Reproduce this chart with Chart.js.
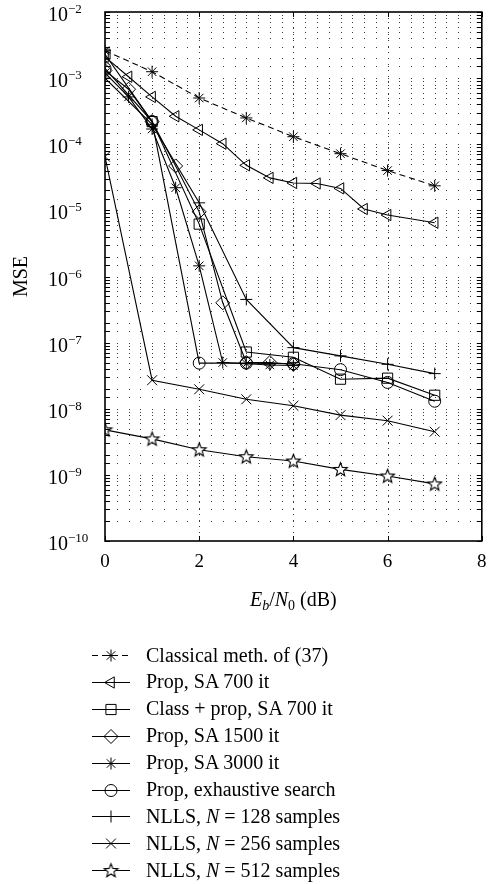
<!DOCTYPE html>
<html>
<head>
<meta charset="utf-8">
<script src="https://cdn.jsdelivr.net/npm/chart.js@4/dist/chart.umd.min.js"></script>
<style>
html,body{margin:0;padding:0;background:#fff;}
#wrap{position:relative;width:490px;height:884px;overflow:hidden;}
#c{position:absolute;left:0;top:0;}
.serif{font-family:"Liberation Serif","Times New Roman",serif;color:#000;}
#xtitle{position:absolute;font-size:20px;line-height:20px;white-space:nowrap;transform:translateX(-50%);}
#xtitle sub{font-size:14px;vertical-align:-4px;line-height:0;}
#legend{position:absolute;left:146px;font-size:20px;line-height:26.9px;white-space:nowrap;}
.ylab{position:absolute;left:48px;font-size:20px;line-height:20px;white-space:nowrap;}
.ylab sup{font-size:13px;vertical-align:8px;line-height:0;}
</style>
</head>
<body>
<div id="wrap">
<canvas id="c" width="490" height="884"></canvas>
<div id="xtitle" class="serif"><i>E<sub>b</sub></i>/<i>N</i><sub>0</sub> (dB)</div>
<div id="ylabels"></div>
<div id="legend" class="serif"></div>
</div>
<script>
// ---------- data ----------
const seriesLabels = [
  'Classical meth. of (37)',
  'Prop, SA 700 it',
  'Class + prop, SA 700 it',
  'Prop, SA 1500 it',
  'Prop, SA 3000 it',
  'Prop, exhaustive search',
  'NLLS, N = 128 samples',
  'NLLS, N = 256 samples',
  'NLLS, N = 512 samples'
];
const classX = [0, 1, 2, 3, 4, 5, 6, 7];
const classY = [2.6e-3, 1.25e-3, 5.0e-4, 2.5e-4, 1.3e-4, 7.2e-5, 4.0e-5, 2.35e-5];

const sa700X = [0, 0.5, 1, 1.5, 2, 2.5, 3, 3.5, 4, 4.5, 5, 5.5, 6, 7];
const sa700Y = [2.1e-3, 1.05e-3, 5.2e-4, 2.65e-4, 1.65e-4, 1.02e-4, 4.8e-5, 3.1e-5, 2.6e-5, 2.55e-5, 2.15e-5, 1.05e-5, 8.5e-6, 6.5e-6];

const classPropX = [0, 1, 2, 3, 4, 5, 6, 7];
const classPropY = [2.3e-3, 2.2e-4, 6.2e-6, 7.2e-8, 6.0e-8, 2.8e-8, 2.9e-8, 1.6e-8];

const sa1500X = [0, 0.5, 1, 1.5, 2, 2.5, 3, 3.5, 4];
const sa1500Y = [1.3e-3, 6.8e-4, 2.2e-4, 4.7e-5, 9.5e-6, 4.0e-7, 5.0e-8, 5.0e-8, 4.7e-8];

const sa3000X = [0, 0.5, 1, 1.5, 2, 2.5, 3, 3.5, 4];
const sa3000Y = [1.2e-3, 5.2e-4, 1.7e-4, 2.2e-5, 1.45e-6, 5.0e-8, 4.8e-8, 4.6e-8, 4.5e-8];

const exhX = [0, 1, 2, 3, 4, 5, 6, 7];
const exhY = [1.4e-3, 2.2e-4, 4.9e-8, 4.9e-8, 4.8e-8, 3.9e-8, 2.5e-8, 1.3e-8];

const nlls128X = [0, 1, 2, 3, 4, 5, 6, 7];
const nlls128Y = [1.0e-3, 2.0e-4, 1.3e-5, 4.5e-7, 8.4e-8, 6.3e-8, 4.7e-8, 3.4e-8];

const nlls256X = [0, 1, 2, 3, 4, 5, 6, 7];
const nlls256Y = [6.5e-5, 2.7e-8, 1.97e-8, 1.39e-8, 1.11e-8, 8.0e-9, 6.6e-9, 4.5e-9];

const nlls512X = [0, 1, 2, 3, 4, 5, 6, 7];
const nlls512Y = [4.8e-9, 3.5e-9, 2.4e-9, 1.88e-9, 1.62e-9, 1.21e-9, 9.6e-10, 7.3e-10];

const xTickValues = [0, 2, 4, 6, 8];
const yTickExponents = [-2, -3, -4, -5, -6, -7, -8, -9, -10];
const yTickLabels = ['\u22122', '\u22123', '\u22124', '\u22125', '\u22126', '\u22127', '\u22128', '\u22129', '\u221210'];

// ---------- styles ----------
const FONT = '"Liberation Serif","Times New Roman",serif';

function makeStar5(){
  const c = document.createElement('canvas');
  c.width = 17; c.height = 17;
  const g = c.getContext('2d');
  const cx = 8.5, cy = 8.9, R = 7.2, r = 3.1;
  g.beginPath();
  for (let k = 0; k < 10; k++) {
    const ang = -Math.PI/2 + k*Math.PI/5;
    const rr = (k % 2 === 0) ? R : r;
    const px = cx + rr*Math.cos(ang), py = cy + rr*Math.sin(ang);
    if (k === 0) g.moveTo(px, py); else g.lineTo(px, py);
  }
  g.closePath();
  g.fillStyle = '#fff';
  g.fill();
  g.strokeStyle = '#000';
  g.lineWidth = 1.1;
  g.stroke();
  return c;
}
const star5 = makeStar5();

const seriesDefs = [
  {xs: classX, ys: classY, style: 'star', r: 6, dash: [6, 4]},
  {xs: sa700X, ys: sa700Y, style: 'triangle', r: 6.5, rot: -90},
  {xs: classPropX, ys: classPropY, style: 'rect', r: 7.2},
  {xs: sa1500X, ys: sa1500Y, style: 'rectRot', r: 7},
  {xs: sa3000X, ys: sa3000Y, style: 'star', r: 6},
  {xs: exhX, ys: exhY, style: 'circle', r: 6},
  {xs: nlls128X, ys: nlls128Y, style: 'cross', r: 6},
  {xs: nlls256X, ys: nlls256Y, style: 'crossRot', r: 7},
  {xs: nlls512X, ys: nlls512Y, style: star5, r: 7}
];

const datasets = seriesDefs.map((d, i) => ({
  label: seriesLabels[i],
  data: d.xs.map((xv, k) => ({x: xv, y: d.ys[k]})),
  borderColor: '#000',
  borderWidth: 1.1,
  borderDash: d.dash || [],
  pointStyle: d.style,
  pointRadius: d.r,
  pointRotation: d.rot || 0,
  pointBorderColor: '#000',
  pointBackgroundColor: 'rgba(0,0,0,0)',
  pointBorderWidth: 1,
  tension: 0,
  fill: false
}));

const LEG = {top: 655, step: 26.9, x0: 92, x1: 130, xm: 111};

const framePlugin = {
  id: 'frame',
  beforeDatasetsDraw(chart) {
    const {ctx, chartArea: a, scales: {x, y}} = chart;
    ctx.save();
    ctx.fillStyle = '#3a3a3a';
    const cols = [];
    for (let k = 1; k < 32; k++) cols.push(x.getPixelForValue(k * 0.25));
    y.ticks.forEach(t => {
      const py = Math.round(y.getPixelForValue(t.value));
      if (py <= a.top + 1 || py >= a.bottom - 1) return;
      cols.forEach(px => ctx.fillRect(Math.round(px), py, 1, 1));
    });
    xTickValues.forEach(v => {
      const px = Math.round(x.getPixelForValue(v));
      if (px <= a.left + 1 || px >= a.right - 1) return;
      for (let py = a.top + 4; py < a.bottom - 2; py += 6) ctx.fillRect(px, Math.round(py), 1, 1);
    });
    ctx.restore();
  },
  afterDraw(chart) {
    const {ctx, chartArea: a, scales: {x, y}} = chart;
    ctx.save();
    ctx.strokeStyle = '#000';
    ctx.lineWidth = 1;
    ctx.beginPath();
    y.ticks.forEach(t => {
      const py = Math.round(y.getPixelForValue(t.value)) + 0.5;
      ctx.moveTo(a.left, py); ctx.lineTo(a.left + 5, py);
      ctx.moveTo(a.right, py); ctx.lineTo(a.right - 5, py);
    });
    xTickValues.forEach(v => {
      const px = Math.round(x.getPixelForValue(v)) + 0.5;
      ctx.moveTo(px, a.bottom); ctx.lineTo(px, a.bottom - 5);
      ctx.moveTo(px, a.top); ctx.lineTo(px, a.top + 5);
    });
    ctx.stroke();
    ctx.lineWidth = 1.6;
    ctx.strokeRect(a.left, a.top, a.right - a.left, a.bottom - a.top);
    chart.data.datasets.forEach((ds, i) => {
      const cy = Math.round(LEG.top + i * LEG.step) + 0.5;
      ctx.lineWidth = ds.borderWidth;
      ctx.setLineDash(ds.borderDash || []);
      ctx.beginPath();
      ctx.moveTo(LEG.x0, cy); ctx.lineTo(LEG.x1, cy);
      ctx.stroke();
      ctx.setLineDash([]);
      ctx.fillStyle = 'rgba(0,0,0,0)';
      ctx.lineWidth = 1;
      Chart.helpers.drawPoint(ctx, {pointStyle: ds.pointStyle, rotation: ds.pointRotation, radius: ds.pointRadius, borderWidth: 1}, LEG.xm, cy);
    });
    ctx.restore();
  }
};

const chart = new Chart(document.getElementById('c'), {
  type: 'line',
  data: {datasets},
  plugins: [framePlugin],
  options: {
    responsive: false,
    animation: false,
    layout: {padding: {top: 12, right: 6, left: 0, bottom: 0}},
    plugins: {legend: {display: false}, tooltip: {enabled: false}},
    scales: {
      x: {
        type: 'linear', min: 0, max: 8,
        grid: {display: false, drawTicks: false},
        border: {display: false},
        afterBuildTicks(s) { s.ticks = xTickValues.map(v => ({value: v})); },
        ticks: {color: '#000', font: {family: FONT, size: 19}, padding: 10, maxRotation: 0},
        afterFit(s) { s.height = 343; s.paddingLeft = 0; s.paddingRight = 0; }
      },
      y: {
        type: 'logarithmic', min: 1e-10, max: 1e-2,
        grid: {display: false, drawTicks: false},
        border: {display: false},
        ticks: {display: false, autoSkip: false},
        title: {display: true, text: 'MSE', color: '#000', font: {family: FONT, size: 20}, padding: {top: 10, bottom: 0}},
        afterFit(s) { s.width = 105; s.paddingTop = 0; s.paddingBottom = 0; }
      }
    }
  }
});

const ca = chart.chartArea;
const ys = chart.scales.y;
const yl = document.getElementById('ylabels');
yl.innerHTML = yTickExponents.map((e, i) => {
  const py = ys.getPixelForValue(Math.pow(10, e));
  return '<div class="ylab serif" style="top:' + (py - 8).toFixed(1) + 'px">10<sup>' + yTickLabels[i] + '</sup></div>';
}).join('');
const xt = document.getElementById('xtitle');
xt.style.left = ((ca.left + ca.right) / 2) + 'px';
xt.style.top = '589px';
const lg = document.getElementById('legend');
lg.style.top = (LEG.top - LEG.step / 2) + 'px';
lg.innerHTML = seriesLabels.map(s => '<div>' + s.replace(/\bN\b/, '<i>N</i>') + '</div>').join('');
</script>
</body>
</html>
